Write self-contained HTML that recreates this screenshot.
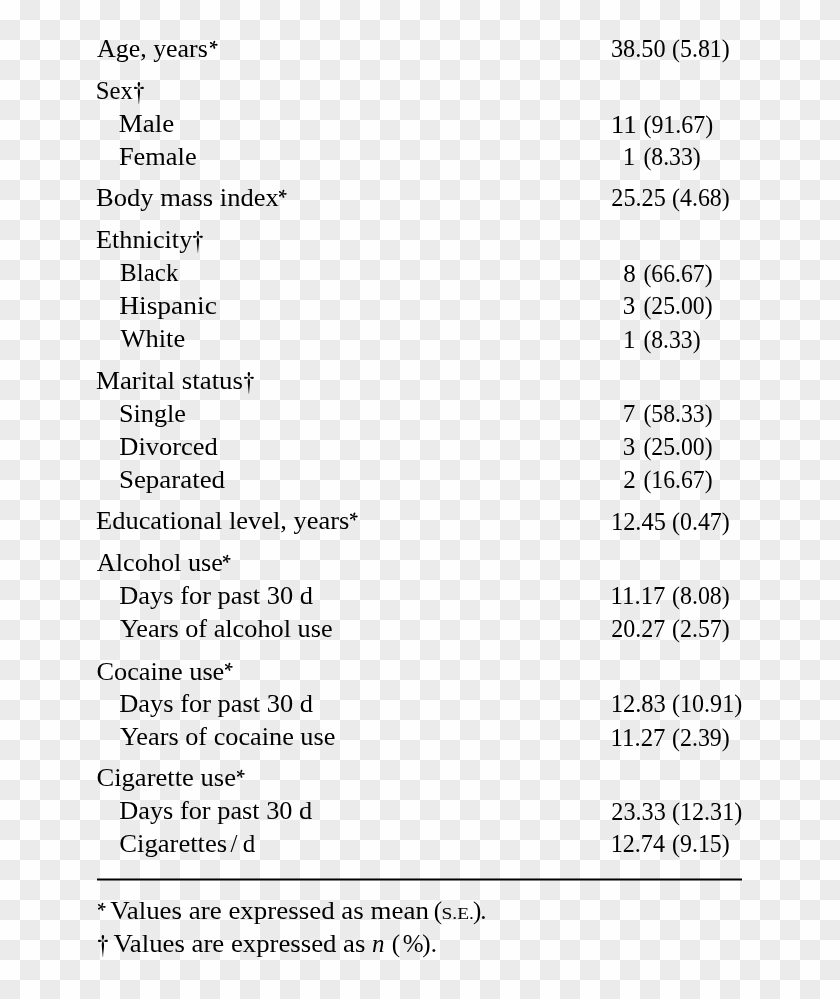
<!DOCTYPE html>
<html><head><meta charset="utf-8"><style>
html,body{margin:0;padding:0;width:840px;height:999px;overflow:hidden;background:#fefefe;}
svg{display:block}
text{font-family:"Liberation Serif",serif;font-size:25px;fill:#000;}
</style></head><body>
<svg width="840" height="999" viewBox="0 0 840 999">
<defs><pattern id="ck" width="40" height="40" patternUnits="userSpaceOnUse">
<rect width="40" height="40" fill="#fefefe"/><rect x="20" y="0" width="20" height="20" fill="#ebebeb"/><rect x="0" y="20" width="20" height="20" fill="#ebebeb"/></pattern>
<path id="arm" d="M0,-0.45 L3.3,-0.88 A0.88,0.88 0 0 1 3.3,0.88 L0,0.45 Z"/>
<g id="ast" fill="#000"><use href="#arm"/><use href="#arm" transform="rotate(72)"/><use href="#arm" transform="rotate(144)"/><use href="#arm" transform="rotate(216)"/><use href="#arm" transform="rotate(288)"/></g>
<path id="dag" fill="#000" d="M0,-5.8 C1.4,-5.8 1.5,-3.6 0.8,-2.2 L0,-0.2 L-0.8,-2.2 C-1.5,-3.6 -1.4,-5.8 0,-5.8 Z M-5,0 C-5,-1.3 -3.2,-1.4 -2.2,-0.75 L-0.2,0 L-2.2,0.75 C-3.2,1.4 -5,1.3 -5,0 Z M5,0 C5,-1.3 3.2,-1.4 2.2,-0.75 L0.2,0 L2.2,0.75 C3.2,1.4 5,1.3 5,0 Z M0,0.2 C0.9,1.5 1.25,3 1.15,4.8 C1.0,7.5 0.4,11.5 0.12,16 L-0.12,16 C-0.4,11.5 -1.0,7.5 -1.15,4.8 C-1.25,3 -0.9,1.5 0,0.2 Z"/>
</defs>
<rect width="840" height="999" fill="url(#ck)"/>
<g style="will-change:opacity;opacity:0.999">
<text x="96.97" y="57.0" textLength="110.87" lengthAdjust="spacingAndGlyphs" >Age, years</text>
<text x="610.88" y="57.4" textLength="54.68" lengthAdjust="spacingAndGlyphs" >38.50</text>
<text x="672.01" y="57.4" textLength="57.74" lengthAdjust="spacingAndGlyphs" >(5.81)</text>
<text x="95.71" y="99.4" textLength="37.06" lengthAdjust="spacingAndGlyphs" >Sex</text>
<text x="118.83" y="132.3" textLength="55.34" lengthAdjust="spacingAndGlyphs" >Male</text>
<text x="610.80" y="132.7" textLength="26.05" lengthAdjust="spacingAndGlyphs" >11</text>
<text x="643.41" y="132.7" textLength="69.87" lengthAdjust="spacingAndGlyphs" >(91.67)</text>
<text x="118.95" y="164.7" textLength="77.67" lengthAdjust="spacingAndGlyphs" >Female</text>
<text x="622.67" y="165.0" >1</text>
<text x="643.42" y="165.0" textLength="57.33" lengthAdjust="spacingAndGlyphs" >(8.33)</text>
<text x="96.05" y="206.0" textLength="182.67" lengthAdjust="spacingAndGlyphs" >Body mass index</text>
<text x="611.32" y="206.3" textLength="54.49" lengthAdjust="spacingAndGlyphs" >25.25</text>
<text x="672.01" y="206.3" textLength="57.75" lengthAdjust="spacingAndGlyphs" >(4.68)</text>
<text x="96.06" y="247.5" textLength="96.24" lengthAdjust="spacingAndGlyphs" >Ethnicity</text>
<text x="120.12" y="281.4" textLength="58.27" lengthAdjust="spacingAndGlyphs" >Black</text>
<text x="623.15" y="281.8" >8</text>
<text x="643.42" y="281.8" textLength="69.15" lengthAdjust="spacingAndGlyphs" >(66.67)</text>
<text x="119.20" y="314.0" textLength="97.71" lengthAdjust="spacingAndGlyphs" >Hispanic</text>
<text x="622.85" y="314.4" >3</text>
<text x="643.42" y="314.4" textLength="69.15" lengthAdjust="spacingAndGlyphs" >(25.00)</text>
<text x="120.56" y="347.2" textLength="64.60" lengthAdjust="spacingAndGlyphs" >White</text>
<text x="623.02" y="347.6" >1</text>
<text x="643.42" y="347.6" textLength="57.12" lengthAdjust="spacingAndGlyphs" >(8.33)</text>
<text x="96.03" y="389.1" textLength="146.96" lengthAdjust="spacingAndGlyphs" >Marital status</text>
<text x="119.01" y="421.7" textLength="66.97" lengthAdjust="spacingAndGlyphs" >Single</text>
<text x="622.70" y="422.1" >7</text>
<text x="643.42" y="422.1" textLength="69.15" lengthAdjust="spacingAndGlyphs" >(58.33)</text>
<text x="119.25" y="454.7" textLength="98.57" lengthAdjust="spacingAndGlyphs" >Divorced</text>
<text x="622.85" y="455.1" >3</text>
<text x="643.42" y="455.1" textLength="69.15" lengthAdjust="spacingAndGlyphs" >(25.00)</text>
<text x="118.96" y="487.8" textLength="106.11" lengthAdjust="spacingAndGlyphs" >Separated</text>
<text x="623.15" y="488.2" >2</text>
<text x="643.42" y="488.2" textLength="69.15" lengthAdjust="spacingAndGlyphs" >(16.67)</text>
<text x="96.05" y="529.3" textLength="253.26" lengthAdjust="spacingAndGlyphs" >Educational level, years</text>
<text x="610.96" y="529.6" textLength="54.87" lengthAdjust="spacingAndGlyphs" >12.45</text>
<text x="672.01" y="529.6" textLength="57.75" lengthAdjust="spacingAndGlyphs" >(0.47)</text>
<text x="96.86" y="571.1" textLength="126.02" lengthAdjust="spacingAndGlyphs" >Alcohol use</text>
<text x="119.25" y="603.7" textLength="193.65" lengthAdjust="spacingAndGlyphs" >Days for past 30 d</text>
<text x="610.62" y="604.1" textLength="54.78" lengthAdjust="spacingAndGlyphs" >11.17</text>
<text x="672.01" y="604.1" textLength="57.75" lengthAdjust="spacingAndGlyphs" >(8.08)</text>
<text x="120.03" y="636.5" textLength="212.54" lengthAdjust="spacingAndGlyphs" >Years of alcohol use</text>
<text x="611.33" y="636.9" textLength="53.97" lengthAdjust="spacingAndGlyphs" >20.27</text>
<text x="672.01" y="636.9" textLength="57.75" lengthAdjust="spacingAndGlyphs" >(2.57)</text>
<text x="96.45" y="679.7" textLength="127.86" lengthAdjust="spacingAndGlyphs" >Cocaine use</text>
<text x="119.25" y="711.9" textLength="193.65" lengthAdjust="spacingAndGlyphs" >Days for past 30 d</text>
<text x="610.64" y="712.2" textLength="55.19" lengthAdjust="spacingAndGlyphs" >12.83</text>
<text x="672.00" y="712.2" textLength="70.18" lengthAdjust="spacingAndGlyphs" >(10.91)</text>
<text x="120.03" y="745.4" textLength="215.36" lengthAdjust="spacingAndGlyphs" >Years of cocaine use</text>
<text x="610.62" y="745.8" textLength="54.78" lengthAdjust="spacingAndGlyphs" >11.27</text>
<text x="672.01" y="745.8" textLength="57.75" lengthAdjust="spacingAndGlyphs" >(2.39)</text>
<text x="96.44" y="786.1" textLength="139.54" lengthAdjust="spacingAndGlyphs" >Cigarette use</text>
<text x="119.26" y="819.1" textLength="193.04" lengthAdjust="spacingAndGlyphs" >Days for past 30 d</text>
<text x="611.32" y="819.5" textLength="54.49" lengthAdjust="spacingAndGlyphs" >23.33</text>
<text x="672.00" y="819.5" textLength="70.18" lengthAdjust="spacingAndGlyphs" >(12.31)</text>
<text x="119.34" y="851.9" textLength="107.85" lengthAdjust="spacingAndGlyphs" >Cigarettes</text>
<text x="230.58" y="851.9" >/</text>
<text x="242.87" y="851.9" >d</text>
<text x="610.68" y="852.2" textLength="54.32" lengthAdjust="spacingAndGlyphs" >12.74</text>
<text x="672.01" y="852.2" textLength="57.75" lengthAdjust="spacingAndGlyphs" >(9.15)</text>
<text x="110.22" y="918.9" textLength="318.63" lengthAdjust="spacingAndGlyphs" >Values are expressed as mean</text>
<text x="433.85" y="918.9" >(</text>
<text x="441.54" y="918.9" textLength="32.44" lengthAdjust="spacingAndGlyphs" style="font-size:17.5px">S.E.</text>
<text x="473.00" y="918.9" >)</text>
<text x="480.18" y="918.9" >.</text>
<text x="113.52" y="952.0" textLength="251.90" lengthAdjust="spacingAndGlyphs" >Values are expressed as</text>
<text x="372.03" y="952.0" style="font-style:italic">n</text>
<text x="391.70" y="952.0" >(</text>
<text x="402.64" y="952.0" >%</text>
<text x="422.15" y="952.0" >)</text>
<text x="430.78" y="952.0" >.</text>
<use href="#ast" transform="translate(213.40,44.75)"/>
<use href="#dag" transform="translate(138.90,87.90)"/>
<use href="#ast" transform="translate(282.45,193.80)"/>
<use href="#dag" transform="translate(197.90,236.80)"/>
<use href="#dag" transform="translate(248.90,377.80)"/>
<use href="#ast" transform="translate(353.50,516.50)"/>
<use href="#ast" transform="translate(226.40,558.80)"/>
<use href="#ast" transform="translate(228.50,666.80)"/>
<use href="#ast" transform="translate(240.50,773.80)"/>
<use href="#ast" transform="translate(101.50,906.80)"/>
<use href="#dag" transform="translate(102.90,940.90)"/>
</g>
<rect x="97" y="878.5" width="645" height="2" fill="#000"/>
</svg>
</body></html>
